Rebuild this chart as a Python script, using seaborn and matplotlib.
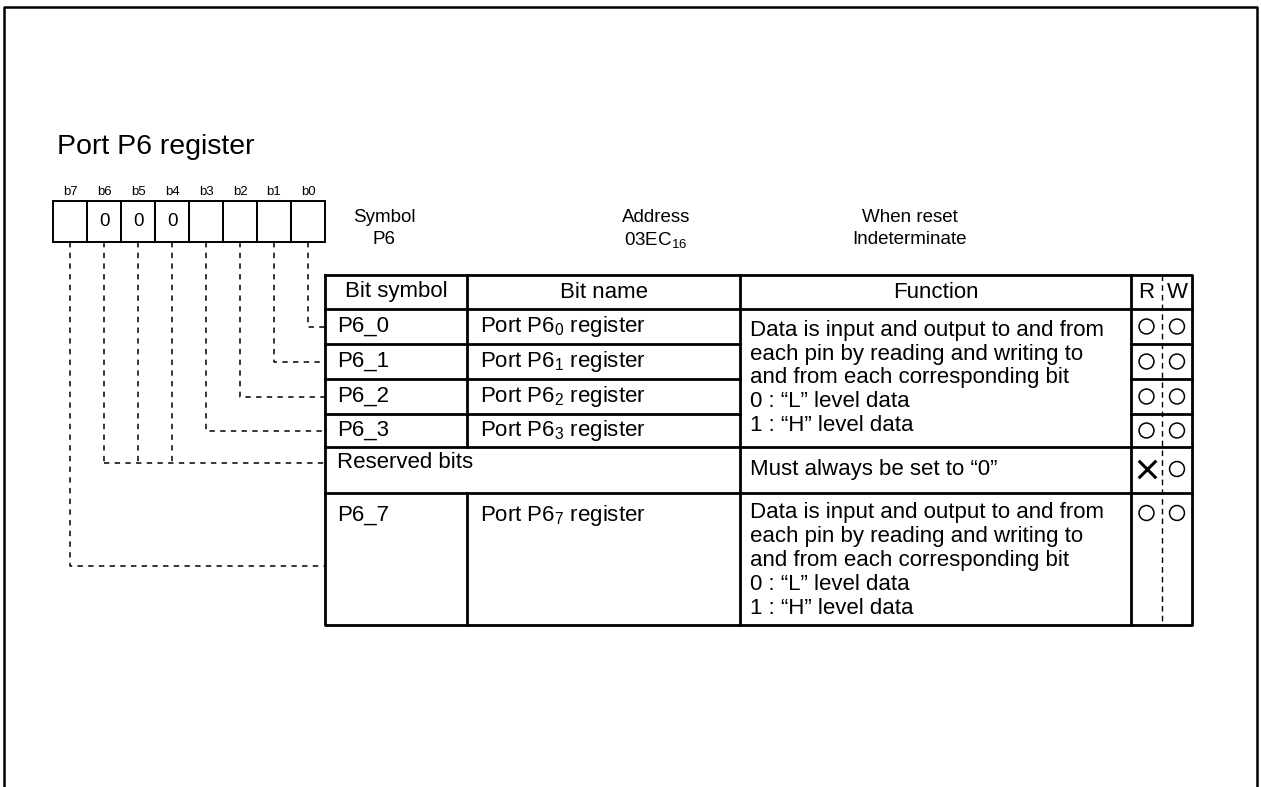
import matplotlib
matplotlib.use('Agg')
import matplotlib.pyplot as plt
import seaborn as sns
import pandas as pd

# register content
title = 'Port P6 register'
bit_labels = ['b7', 'b6', 'b5', 'b4', 'b3', 'b2', 'b1', 'b0']
bit_values = ['', '0', '0', '0', '', '', '', '']
info_heads = ['Symbol', 'Address', 'When reset']
info_values = ['P6', '03EC$_{16}$', 'Indeterminate']
headers = ['Bit symbol', 'Bit name', 'Function', 'R', 'W']
bit_symbols = ['P6_0', 'P6_1', 'P6_2', 'P6_3', 'Reserved bits', 'P6_7']
bit_names = ['Port P6$_0$ register', 'Port P6$_1$ register', 'Port P6$_2$ register',
             'Port P6$_3$ register', '', 'Port P6$_7$ register']
func_io = ('Data is input and output to and from\n'
           'each pin by reading and writing to\n'
           'and from each corresponding bit\n'
           '0 : \u201cL\u201d level data\n'
           '1 : \u201cH\u201d level data')
func_reserved = 'Must always be set to \u201c0\u201d'
read_marks = ['o', 'o', 'o', 'o', 'x', 'o']
write_marks = ['o', 'o', 'o', 'o', 'o', 'o']

sns.set_style('white')
plt.rcParams['font.family'] = ['Liberation Sans', 'DejaVu Sans']
plt.rcParams['mathtext.default'] = 'regular'
plt.rcParams['text.color'] = 'black'

fig = plt.figure(figsize=(12.61, 7.87), dpi=100)
ax = fig.add_axes([0, 0, 1, 1])

K = 'black'
# outer frame (bottom runs off the page)
ax.plot([4, 4, 1257, 1257], [800, 7, 7, 800], color=K, lw=1.8)

ax.text(57, 147, title, fontsize=20.5, va='center', ha='left')

# bit boxes
bx0, bw, btop, bbot = 53, 34, 201, 242
for i, (lab, val) in enumerate(zip(bit_labels, bit_values)):
    x = bx0 + i * bw
    ax.add_patch(plt.Rectangle((x, btop), bw, bbot - btop, fill=False, ec=K, lw=1.4))
    ax.text(x + bw / 2, 192, lab, fontsize=9.5, ha='center', va='center')
    if val:
        ax.text(x + bw / 2, 222, val, fontsize=13.5, ha='center', va='center')

for i, (h, v) in enumerate(zip(info_heads, info_values)):
    cx = [384, 656, 910][i]
    ax.text(cx, 217, h, fontsize=13.5, ha='center', va='center')
    ax.text(cx, 240, v, fontsize=13.5, ha='center', va='center')

# table geometry
cols = [325, 467, 740, 1131, 1192]
rw_mid = 1162
rows = [275, 309, 344, 379, 414, 447, 493, 625]
centers = [(rows[i] + rows[i + 1]) / 2 for i in range(1, 5)] + [469, 513]

dash = dict(color=K, lw=1.1, linestyle=(0, (3.5, 3.5)))
# leader lines from bits to rows
bit_x = [bx0 + i * bw + bw / 2 for i in range(8)]
for k, row_y in zip([7, 6, 5, 4], centers[:4]):
    ax.plot([bit_x[k], bit_x[k], cols[0]], [bbot, row_y, row_y], **dash)
for k in [1, 2, 3]:
    ax.plot([bit_x[k], bit_x[k]], [bbot, 463], **dash)
ax.plot([bit_x[1], cols[0]], [463, 463], **dash)
ax.plot([bit_x[0], bit_x[0], cols[0]], [bbot, 566, 566], **dash)

tl = dict(color=K, lw=2.0, solid_capstyle='projecting')
# outer table border
ax.plot([cols[0], cols[-1], cols[-1], cols[0], cols[0]],
        [rows[0], rows[0], rows[-1], rows[-1], rows[0]], **tl)
# vertical lines
ax.plot([cols[1], cols[1]], [rows[0], rows[5]], **tl)
ax.plot([cols[1], cols[1]], [rows[6], rows[7]], **tl)
ax.plot([cols[2], cols[2]], [rows[0], rows[7]], **tl)
ax.plot([cols[3], cols[3]], [rows[0], rows[7]], **tl)
ax.plot([rw_mid, rw_mid], [rows[0], rows[7]], color=K, lw=1.0, linestyle=(0, (4, 3)))
# horizontal lines
for r in [rows[1], rows[5], rows[6]]:
    ax.plot([cols[0], cols[-1]], [r, r], **tl)
for r in rows[2:5]:
    ax.plot([cols[0], cols[2]], [r, r], **tl)
    ax.plot([cols[3], cols[4]], [r, r], **tl)

fs = 16
hx = [(cols[0] + cols[1]) / 2, (cols[1] + cols[2]) / 2, (cols[2] + cols[3]) / 2,
      (cols[3] + rw_mid) / 2, (rw_mid + cols[4]) / 2]
for x, h in zip(hx, headers):
    ax.text(x, 292, h, fontsize=fs, ha='center', va='center')

row_text_y = centers[:4] + [462, 515]
for y, s, n in zip(row_text_y, bit_symbols, bit_names):
    ax.text(337, y, s, fontsize=fs, ha='left', va='center')
    if n:
        ax.text(480, y, n, fontsize=fs, ha='left', va='center')

ax.text(750, 378, func_io, fontsize=fs, ha='left', va='center', linespacing=1.18)
ax.text(750, 469, func_reserved, fontsize=fs, ha='left', va='center')
ax.text(750, 502, func_io, fontsize=fs, ha='left', va='top', linespacing=1.18)

# R / W marks
marks = pd.DataFrame({
    'x': [hx[3]] * 6 + [hx[4]] * 6,
    'y': centers + centers,
    'mark': read_marks + write_marks,
})
circ = marks[marks['mark'] == 'o']
cross = marks[marks['mark'] == 'x']
sns.scatterplot(data=circ, x='x', y='y', marker='o', s=115, facecolor='none',
                edgecolor=K, linewidth=1.1, ax=ax, legend=False)
sns.scatterplot(data=cross, x='x', y='y', marker='x', s=160, color=K,
                linewidth=2.2, ax=ax, legend=False)
ax.set_xlim(0, 1261)
ax.set_ylim(787, 0)
ax.axis('off')

fig.savefig('out.png', dpi=100)
